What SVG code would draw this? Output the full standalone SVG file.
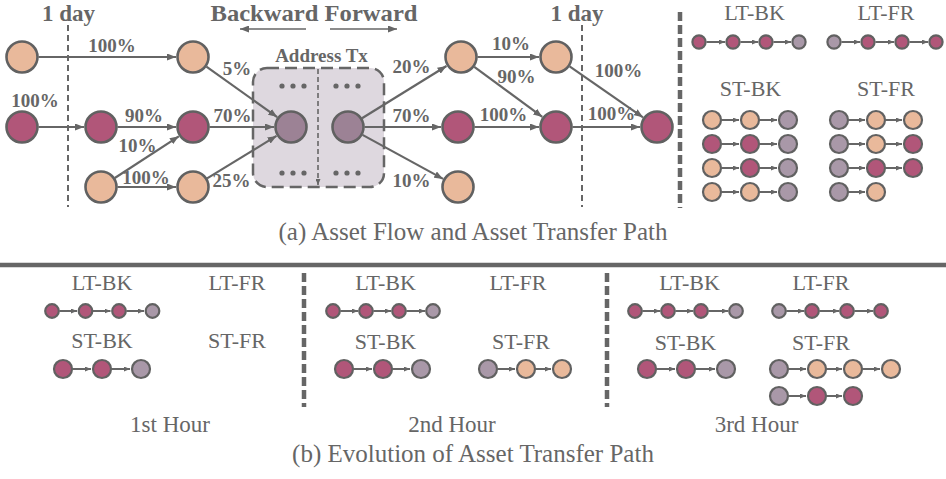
<svg xmlns="http://www.w3.org/2000/svg" width="946" height="479" viewBox="0 0 946 479">
<defs>
<style>
.t{font-family:"Liberation Serif","Times New Roman",serif;fill:#666;text-anchor:middle}
.b{font-weight:bold}
.pc{font-size:19px;font-weight:bold}
.lb{font-size:22px}
.cap{font-size:25px}
.hr{font-size:23px}
.pe{fill:#e9b99b}
.mg{fill:#b15679}
.gr{fill:#a998a8}
.ad{fill:#9c8295}
.big circle{stroke:#616161;stroke-width:2.6}
.sm circle{stroke:#616161;stroke-width:2.2}
.cn line{stroke:#666;stroke-width:2.2;fill:none}
.cs line{stroke:#666;stroke-width:2;fill:none}
</style>
<marker id="ah" viewBox="0 0 9 7" refX="9" refY="3.5" markerWidth="9" markerHeight="7" markerUnits="userSpaceOnUse" orient="auto"><path d="M0,0 L9,3.5 L0,7 z" fill="#666"/></marker>
<marker id="as" viewBox="0 0 6 5" refX="6" refY="2.5" markerWidth="6" markerHeight="5" markerUnits="userSpaceOnUse" orient="auto"><path d="M0,0 L6,2.5 L0,5 z" fill="#666"/></marker>
</defs>
<rect width="946" height="479" fill="#fff"/>

<!-- dividers -->
<g id="dividers">
<line x1="68" y1="25" x2="68" y2="207" stroke="#666" stroke-width="2" stroke-dasharray="6,4"/>
<line x1="582" y1="25" x2="582" y2="207" stroke="#666" stroke-width="2" stroke-dasharray="6,4"/>
<line x1="680" y1="12" x2="680" y2="208" stroke="#666" stroke-width="4.5" stroke-dasharray="9,4"/>
<line x1="0" y1="265" x2="946" y2="265" stroke="#666" stroke-width="4.5"/>
<line x1="304" y1="273" x2="304" y2="407" stroke="#666" stroke-width="4.5" stroke-dasharray="9,4"/>
<line x1="607" y1="273" x2="607" y2="407" stroke="#666" stroke-width="4.5" stroke-dasharray="9,4"/>
</g>

<!-- address tx box -->
<g id="address-tx">
<rect x="253" y="68" width="131" height="119" rx="14" fill="#ded8df" stroke="#666" stroke-width="2.5" stroke-dasharray="12,6"/>
<text class="t b" x="321.5" y="62" font-size="19">Address Tx</text>
<g fill="#666">
<circle cx="282" cy="86" r="2.6"/><circle cx="293" cy="86" r="2.6"/><circle cx="304" cy="86" r="2.6"/>
<circle cx="336" cy="86" r="2.6"/><circle cx="347" cy="86" r="2.6"/><circle cx="358" cy="86" r="2.6"/>
<circle cx="282" cy="173" r="2.6"/><circle cx="293" cy="173" r="2.6"/><circle cx="304" cy="173" r="2.6"/>
<circle cx="336" cy="173" r="2.6"/><circle cx="347" cy="173" r="2.6"/><circle cx="358" cy="173" r="2.6"/>
</g>
</g>

<!-- top headers -->
<g id="headers">
<text class="t b" x="68.5" y="21" font-size="23">1 day</text>
<text class="t b" x="577" y="21" font-size="23">1 day</text>
<text class="t b" x="314" y="21" font-size="23" textLength="207" lengthAdjust="spacingAndGlyphs">Backward Forward</text>
</g>

<!-- connectors -->
<g id="connectors" class="cn">
<line x1="306" y1="29" x2="240" y2="29" marker-end="url(#ah)" style="stroke-width:1.6"/>
<line x1="330" y1="29" x2="397" y2="29" marker-end="url(#ah)" style="stroke-width:1.6"/>
<line x1="318" y1="69" x2="318" y2="185" marker-end="url(#as)" style="stroke-width:1.6;stroke-dasharray:5,3"/>
<line x1="38.5" y1="57" x2="176" y2="57" marker-end="url(#ah)"/>
<line x1="38.5" y1="127" x2="84" y2="127" marker-end="url(#ah)"/>
<line x1="117.5" y1="127" x2="176" y2="127" marker-end="url(#ah)"/>
<line x1="114.8" y1="178" x2="178.8" y2="136.3" marker-end="url(#ah)"/>
<line x1="117.5" y1="187" x2="176" y2="187" marker-end="url(#ah)"/>
<line x1="206.4" y1="66.6" x2="277.2" y2="117.1" marker-end="url(#ah)"/>
<line x1="209.5" y1="127" x2="274" y2="127" marker-end="url(#ah)"/>
<line x1="207.1" y1="178.4" x2="276.5" y2="135.9" marker-end="url(#ah)"/>
<line x1="362" y1="118.3" x2="446.5" y2="66" marker-end="url(#ah)"/>
<line x1="364.5" y1="127" x2="441" y2="127" marker-end="url(#ah)"/>
<line x1="362.5" y1="134.9" x2="443.1" y2="178.9" marker-end="url(#ah)"/>
<line x1="477.5" y1="57" x2="539" y2="57" marker-end="url(#ah)"/>
<line x1="474.3" y1="66.8" x2="542.3" y2="116.9" marker-end="url(#ah)"/>
<line x1="474.5" y1="127" x2="539" y2="127" marker-end="url(#ah)"/>
<line x1="569.6" y1="66.4" x2="643" y2="117.3" marker-end="url(#ah)"/>
<line x1="572.5" y1="127" x2="640" y2="127" marker-end="url(#ah)"/>
<g class="cs">
<!-- top right panel -->
<line x1="706.5" y1="42" x2="725" y2="42" marker-end="url(#as)"/>
<line x1="740.5" y1="42" x2="758" y2="42" marker-end="url(#as)"/>
<line x1="773.5" y1="42" x2="791" y2="42" marker-end="url(#as)"/>
<line x1="841.5" y1="42" x2="860" y2="42" marker-end="url(#as)"/>
<line x1="875.5" y1="42" x2="894" y2="42" marker-end="url(#as)"/>
<line x1="909.5" y1="42" x2="928" y2="42" marker-end="url(#as)"/>
<line x1="722" y1="120" x2="739" y2="120" marker-end="url(#as)"/>
<line x1="760" y1="120" x2="777" y2="120" marker-end="url(#as)"/>
<line x1="722" y1="144" x2="739" y2="144" marker-end="url(#as)"/>
<line x1="760" y1="144" x2="777" y2="144" marker-end="url(#as)"/>
<line x1="722" y1="168" x2="739" y2="168" marker-end="url(#as)"/>
<line x1="760" y1="168" x2="777" y2="168" marker-end="url(#as)"/>
<line x1="722" y1="192" x2="739" y2="192" marker-end="url(#as)"/>
<line x1="760" y1="192" x2="777" y2="192" marker-end="url(#as)"/>
<line x1="849" y1="120" x2="865" y2="120" marker-end="url(#as)"/>
<line x1="886" y1="120" x2="902" y2="120" marker-end="url(#as)"/>
<line x1="849" y1="144" x2="865" y2="144" marker-end="url(#as)"/>
<line x1="886" y1="144" x2="902" y2="144" marker-end="url(#as)"/>
<line x1="849" y1="168" x2="865" y2="168" marker-end="url(#as)"/>
<line x1="886" y1="168" x2="902" y2="168" marker-end="url(#as)"/>
<line x1="849" y1="192" x2="865" y2="192" marker-end="url(#as)"/>
<!-- 1st hour -->
<line x1="59.5" y1="311" x2="77" y2="311" marker-end="url(#as)"/>
<line x1="93" y1="311" x2="110.5" y2="311" marker-end="url(#as)"/>
<line x1="126.5" y1="311" x2="144" y2="311" marker-end="url(#as)"/>
<line x1="73" y1="369" x2="91" y2="369" marker-end="url(#as)"/>
<line x1="112" y1="369" x2="130" y2="369" marker-end="url(#as)"/>
<!-- 2nd hour -->
<line x1="340.5" y1="311" x2="358" y2="311" marker-end="url(#as)"/>
<line x1="373.5" y1="311" x2="391" y2="311" marker-end="url(#as)"/>
<line x1="406.5" y1="311" x2="425" y2="311" marker-end="url(#as)"/>
<line x1="354" y1="369" x2="372" y2="369" marker-end="url(#as)"/>
<line x1="393" y1="369" x2="410" y2="369" marker-end="url(#as)"/>
<line x1="498" y1="369" x2="515" y2="369" marker-end="url(#as)"/>
<line x1="536" y1="369" x2="551" y2="369" marker-end="url(#as)"/>
<!-- 3rd hour -->
<line x1="642.5" y1="311" x2="660" y2="311" marker-end="url(#as)"/>
<line x1="675.5" y1="311" x2="693" y2="311" marker-end="url(#as)"/>
<line x1="708.5" y1="311" x2="728" y2="311" marker-end="url(#as)"/>
<line x1="786.5" y1="311" x2="804" y2="311" marker-end="url(#as)"/>
<line x1="819.5" y1="311" x2="839" y2="311" marker-end="url(#as)"/>
<line x1="854.5" y1="311" x2="873" y2="311" marker-end="url(#as)"/>
<line x1="657" y1="369" x2="675" y2="369" marker-end="url(#as)"/>
<line x1="696" y1="369" x2="715" y2="369" marker-end="url(#as)"/>
<line x1="789" y1="369" x2="806" y2="369" marker-end="url(#as)"/>
<line x1="827" y1="369" x2="842" y2="369" marker-end="url(#as)"/>
<line x1="863" y1="369" x2="880" y2="369" marker-end="url(#as)"/>
<line x1="789" y1="396" x2="806" y2="396" marker-end="url(#as)"/>
<line x1="827" y1="396" x2="842" y2="396" marker-end="url(#as)"/>
</g>
</g>

<!-- flow nodes -->
<g class="big">
<g id="nA1"><circle class="pe" cx="22" cy="57" r="15.5"/></g>
<g id="nA2"><circle class="pe" cx="193" cy="57" r="15.5"/></g>
<g id="nB1"><circle class="mg" cx="22" cy="127" r="15.5"/></g>
<g id="nB2"><circle class="mg" cx="101" cy="127" r="15.5"/></g>
<g id="nB3"><circle class="mg" cx="193" cy="127" r="15.5"/></g>
<g id="nC1"><circle class="pe" cx="101" cy="187" r="15.5"/></g>
<g id="nC2"><circle class="pe" cx="193" cy="187" r="15.5"/></g>
<g id="nL"><circle class="ad" cx="291" cy="127" r="15.5"/></g>
<g id="nR"><circle class="ad" cx="348" cy="127" r="15.5"/></g>
<g id="nD1"><circle class="pe" cx="461" cy="57" r="15.5"/></g>
<g id="nD2"><circle class="mg" cx="458" cy="127" r="15.5"/></g>
<g id="nD3"><circle class="pe" cx="458" cy="187" r="15.5"/></g>
<g id="nE1"><circle class="pe" cx="556" cy="57" r="15.5"/></g>
<g id="nE2"><circle class="mg" cx="556" cy="127" r="15.5"/></g>
<g id="nF"><circle class="mg" cx="657" cy="127" r="15.5"/></g>
</g>

<!-- percentages -->
<g id="percent-labels" class="t pc">
<text x="112" y="52">100%</text>
<text x="35" y="107">100%</text>
<text x="144" y="122">90%</text>
<text x="137.5" y="152">10%</text>
<text x="146" y="184">100%</text>
<text x="237" y="75">5%</text>
<text x="232.5" y="122">70%</text>
<text x="231.5" y="187">25%</text>
<text x="411.5" y="73">20%</text>
<text x="411.5" y="122">70%</text>
<text x="411.5" y="187">10%</text>
<text x="511" y="50">10%</text>
<text x="516.5" y="83">90%</text>
<text x="503.5" y="121">100%</text>
<text x="618.5" y="77">100%</text>
<text x="611.5" y="120">100%</text>
</g>

<!-- top right: paths -->
<g id="paths-a" class="sm">
<text class="t lb" x="754.5" y="20">LT-BK</text>
<text class="t lb" x="886" y="20">LT-FR</text>
<text class="t lb" x="750.5" y="96">ST-BK</text>
<text class="t lb" x="886" y="96">ST-FR</text>
<g id="a-ltbk"><circle class="mg" cx="699" cy="42" r="6.6"/><circle class="mg" cx="733" cy="42" r="6.6"/><circle class="mg" cx="766" cy="42" r="6.6"/><circle class="gr" cx="799" cy="42" r="6.6"/></g>
<g id="a-ltfr"><circle class="gr" cx="834" cy="42" r="6.6"/><circle class="mg" cx="868" cy="42" r="6.6"/><circle class="mg" cx="902" cy="42" r="6.6"/><circle class="mg" cx="936" cy="42" r="6.6"/></g>
<g id="a-stbk">
<circle class="pe" cx="712" cy="120" r="9"/><circle class="pe" cx="750" cy="120" r="9"/><circle class="gr" cx="788" cy="120" r="9"/>
<circle class="mg" cx="712" cy="144" r="9"/><circle class="mg" cx="750" cy="144" r="9"/><circle class="gr" cx="788" cy="144" r="9"/>
<circle class="pe" cx="712" cy="168" r="9"/><circle class="mg" cx="750" cy="168" r="9"/><circle class="gr" cx="788" cy="168" r="9"/>
<circle class="pe" cx="712" cy="192" r="9"/><circle class="pe" cx="750" cy="192" r="9"/><circle class="gr" cx="788" cy="192" r="9"/>
</g>
<g id="a-stfr">
<circle class="gr" cx="839" cy="120" r="9"/><circle class="pe" cx="876" cy="120" r="9"/><circle class="pe" cx="913" cy="120" r="9"/>
<circle class="gr" cx="839" cy="144" r="9"/><circle class="pe" cx="876" cy="144" r="9"/><circle class="mg" cx="913" cy="144" r="9"/>
<circle class="gr" cx="839" cy="168" r="9"/><circle class="mg" cx="876" cy="168" r="9"/><circle class="mg" cx="913" cy="168" r="9"/>
<circle class="gr" cx="839" cy="192" r="9"/><circle class="pe" cx="876" cy="192" r="9"/>
</g>
</g>

<text id="caption-a" class="t cap" x="473" y="240">(a) Asset Flow and Asset Transfer Path</text>

<!-- 1st hour -->
<g id="hour1" class="sm">
<text class="t lb" x="102" y="290">LT-BK</text>
<text class="t lb" x="237" y="290">LT-FR</text>
<text class="t lb" x="102" y="348">ST-BK</text>
<text class="t lb" x="237" y="348">ST-FR</text>
<circle class="mg" cx="52" cy="311" r="6.8"/><circle class="mg" cx="85.5" cy="311" r="6.8"/><circle class="mg" cx="119" cy="311" r="6.8"/><circle class="gr" cx="152.5" cy="311" r="6.8"/>
<circle class="mg" cx="63" cy="369" r="9"/><circle class="mg" cx="102" cy="369" r="9"/><circle class="gr" cx="141" cy="369" r="9"/>
<text class="t hr" x="170" y="432">1st Hour</text>
</g>

<!-- 2nd hour -->
<g id="hour2" class="sm">
<text class="t lb" x="385.5" y="290">LT-BK</text>
<text class="t lb" x="518" y="290">LT-FR</text>
<text class="t lb" x="385.5" y="349">ST-BK</text>
<text class="t lb" x="521" y="349">ST-FR</text>
<circle class="mg" cx="333" cy="311" r="6.8"/><circle class="mg" cx="366" cy="311" r="6.8"/><circle class="mg" cx="399" cy="311" r="6.8"/><circle class="gr" cx="433" cy="311" r="6.8"/>
<circle class="mg" cx="344" cy="369" r="9"/><circle class="mg" cx="383" cy="369" r="9"/><circle class="gr" cx="421" cy="369" r="9"/>
<circle class="gr" cx="488" cy="369" r="9"/><circle class="pe" cx="526" cy="369" r="9"/><circle class="pe" cx="562" cy="369" r="9"/>
<text class="t hr" x="452" y="432">2nd Hour</text>
</g>

<!-- 3rd hour -->
<g id="hour3" class="sm">
<text class="t lb" x="689.5" y="290">LT-BK</text>
<text class="t lb" x="821" y="290">LT-FR</text>
<text class="t lb" x="685.5" y="350">ST-BK</text>
<text class="t lb" x="821" y="350">ST-FR</text>
<circle class="mg" cx="635" cy="311" r="6.8"/><circle class="mg" cx="668" cy="311" r="6.8"/><circle class="mg" cx="701" cy="311" r="6.8"/><circle class="gr" cx="736" cy="311" r="6.8"/>
<circle class="gr" cx="779" cy="311" r="6.8"/><circle class="mg" cx="812" cy="311" r="6.8"/><circle class="mg" cx="847" cy="311" r="6.8"/><circle class="mg" cx="881" cy="311" r="6.8"/>
<circle class="mg" cx="647" cy="369" r="9"/><circle class="mg" cx="686" cy="369" r="9"/><circle class="gr" cx="726" cy="369" r="9"/>
<circle class="gr" cx="779" cy="369" r="9"/><circle class="pe" cx="817" cy="369" r="9"/><circle class="pe" cx="853" cy="369" r="9"/><circle class="pe" cx="891" cy="369" r="9"/>
<circle class="gr" cx="779" cy="396" r="9"/><circle class="mg" cx="817" cy="396" r="9"/><circle class="mg" cx="853" cy="396" r="9"/>
<text class="t hr" x="756.5" y="432">3rd Hour</text>
</g>

<text id="caption-b" class="t cap" x="473" y="462">(b) Evolution of Asset Transfer Path</text>
</svg>
